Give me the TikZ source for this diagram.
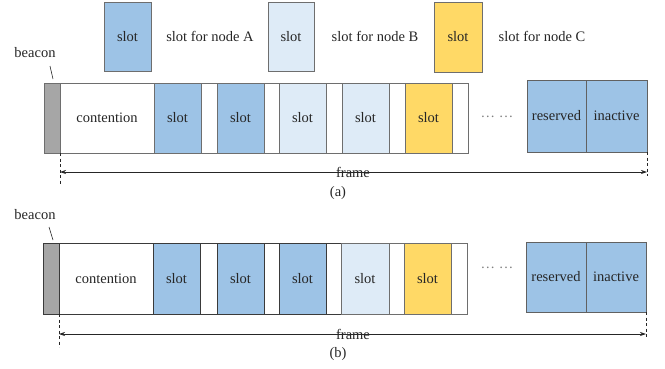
\documentclass[tikz,border=0pt]{standalone}
\usepackage{fontspec}
\setmainfont{Liberation Serif}
\usetikzlibrary{arrows.meta}
\definecolor{cA}{HTML}{9DC3E6}
\definecolor{cB}{HTML}{DEEBF7}
\definecolor{cC}{HTML}{FFD966}
\definecolor{cBeacon}{HTML}{A6A6A6}
\definecolor{edgeA}{HTML}{6E6E6E}
\definecolor{edgeB}{HTML}{3A3A3A}
\definecolor{txt}{HTML}{262626}
\begin{document}
\begin{tikzpicture}[x=1pt,y=-1pt,
  font=\fontsize{14.5}{16}\selectfont,
  box/.style={draw=edgeA, line width=0.9pt, inner sep=0pt, outer sep=0pt,
    anchor=north west, text=txt},
  boxb/.style={box, draw=edgeB},
  lbl/.style={text=txt, inner sep=0pt},
  dim/.style={draw=txt, line width=0.7pt, -{Stealth[length=6pt,width=4pt]}},
  dsh/.style={draw=txt, line width=0.7pt, dash pattern=on 3pt off 2.5pt}]
\useasboundingbox (0,0) rectangle (665,368);

% legend
\node[box, fill=cA, minimum width=47pt, minimum height=69pt] (LA) at (104,2) {slot};
\node[lbl] (tA) at (210,36) {slot for node A};
\node[box, fill=cB, minimum width=46pt, minimum height=69pt] (LB) at (268,2) {slot};
\node[lbl] (tB) at (375,36) {slot for node B};
\node[box, fill=cC, minimum width=48pt, minimum height=70pt] (LC) at (434,2) {slot};
\node[lbl] (tC) at (542,36) {slot for node C};

% (a)
\node[lbl] (bea) at (35,53) {beacon};
\node[box, fill=cBeacon, minimum width=16pt, minimum height=70pt] (abeac) at (44,83) {};
\node[box, fill=white, minimum width=94pt, minimum height=70pt] (acont) at (60,83) {contention};
\node[box, fill=cA, minimum width=47pt, minimum height=70pt] (a1) at (154,83) {slot};
\node[box, fill=white, minimum width=16pt, minimum height=70pt] (ag1) at (201,83) {};
\node[box, fill=cA, minimum width=47pt, minimum height=70pt] (a2) at (217,83) {slot};
\node[box, fill=white, minimum width=15pt, minimum height=70pt] (ag2) at (264,83) {};
\node[box, fill=cB, minimum width=47pt, minimum height=70pt] (a3) at (279,83) {slot};
\node[box, fill=white, minimum width=16pt, minimum height=70pt] (ag3) at (326,83) {};
\node[box, fill=cB, minimum width=47pt, minimum height=70pt] (a4) at (342,83) {slot};
\node[box, fill=white, minimum width=16pt, minimum height=70pt] (ag4) at (389,83) {};
\node[box, fill=cC, minimum width=47pt, minimum height=70pt] (a5) at (405,83) {slot};
\node[box, fill=white, minimum width=16pt, minimum height=70pt] (ag5) at (452,83) {};
\node[lbl, text=gray] (adots) at (497,117) {…\ …};
\node[box, draw=edgeB!80, fill=cA, minimum width=59pt, minimum height=72pt] (ares) at (527,80) {reserved};
\node[box, draw=edgeB!80, fill=cA, minimum width=61pt, minimum height=72pt] (ainac) at (586,80) {inactive};
\coordinate (abl) at (50,66);
\coordinate (abr) at (53,79);
\draw[txt, line width=0.6pt] (abl) -- (abr);
\coordinate (adl) at (60,185);
\coordinate (adr) at (647,176);
\draw[dsh] (abeac.south east) -- (adl);
\draw[dsh] (ainac.south east) -- (adr);
\coordinate (afl) at (60,172);
\coordinate (afr) at (647,172);
\coordinate (afm) at (353,172);
\draw[dim] (afm) -- (afl);
\draw[dim] (afm) -- (afr);
\node[lbl] (aframe) at (353,172) {frame};
\node[lbl] (acap) at (338,193) {(a)};

% (b)
\node[lbl] (beb) at (35,215) {beacon};
\node[boxb, fill=cBeacon, minimum width=16pt, minimum height=71pt] (bbeac) at (43,243) {};
\node[boxb, fill=white, minimum width=94pt, minimum height=71pt] (bcont) at (59,243) {contention};
\node[boxb, fill=cA, minimum width=47pt, minimum height=71pt] (b1) at (153,243) {slot};
\node[boxb, fill=white, minimum width=17pt, minimum height=71pt] (bg1) at (200,243) {};
\node[boxb, fill=cA, minimum width=47pt, minimum height=71pt] (b2) at (217,243) {slot};
\node[boxb, fill=white, minimum width=15pt, minimum height=71pt] (bg2) at (264,243) {};
\node[boxb, fill=cA, minimum width=47pt, minimum height=71pt] (b3) at (279,243) {slot};
\node[boxb, fill=white, minimum width=15pt, minimum height=71pt] (bg3) at (326,243) {};
\node[box, fill=cB, minimum width=48pt, minimum height=71pt] (b4) at (341,243) {slot};
\node[box, fill=white, minimum width=15pt, minimum height=71pt] (bg4) at (389,243) {};
\node[box, fill=cC, minimum width=47pt, minimum height=71pt] (b5) at (404,243) {slot};
\node[box, fill=white, minimum width=16pt, minimum height=71pt] (bg5) at (451,243) {};
\node[lbl, text=gray] (bdots) at (497,268) {…\ …};
\node[box, draw=edgeB!80, fill=cA, minimum width=60pt, minimum height=70pt] (bres) at (526,242) {reserved};
\node[box, draw=edgeB!80, fill=cA, minimum width=60pt, minimum height=70pt] (binac) at (586,242) {inactive};
\coordinate (bbl) at (49,227);
\coordinate (bbr) at (53,240);
\draw[txt, line width=0.6pt] (bbl) -- (bbr);
\coordinate (bdl) at (59,347);
\coordinate (bdr) at (646,338);
\draw[dsh] (bbeac.south east) -- (bdl);
\draw[dsh] (binac.south east) -- (bdr);
\coordinate (bfl) at (59,334);
\coordinate (bfr) at (646,334);
\coordinate (bfm) at (353,334);
\draw[dim] (bfm) -- (bfl);
\draw[dim] (bfm) -- (bfr);
\node[lbl] (bframe) at (353,334) {frame};
\node[lbl] (bcap) at (338,354) {(b)};
\end{tikzpicture}
\end{document}
